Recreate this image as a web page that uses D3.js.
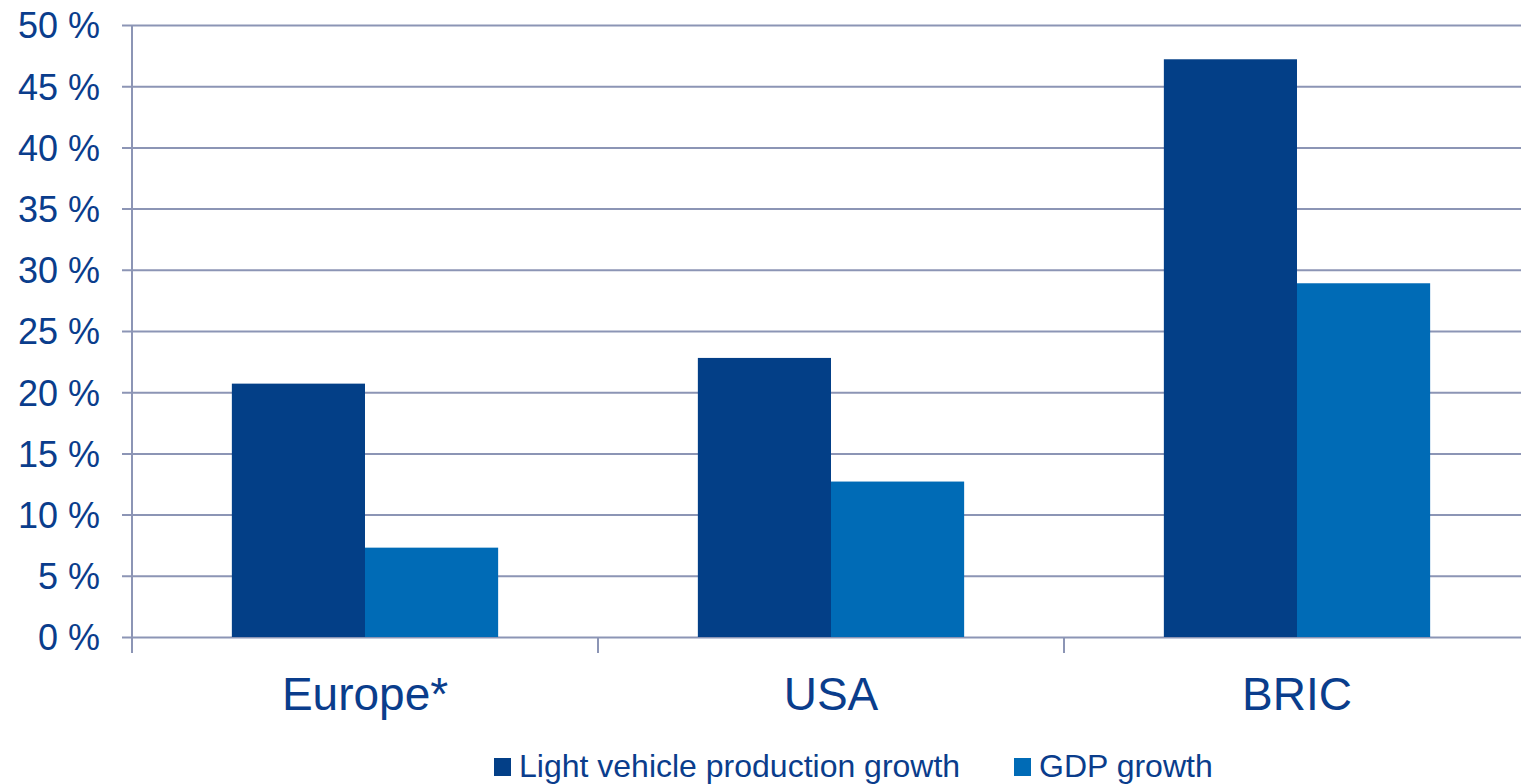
<!DOCTYPE html>
<html>
<head>
<meta charset="utf-8">
<script src="https://cdn.jsdelivr.net/npm/d3@7"></script>
<style>
  html, body { margin: 0; padding: 0; background: #fff; overflow: hidden; }
  text { font-family: "Liberation Sans", Arial, sans-serif; }
</style>
</head>
<body>
<svg id="chart" width="1521" height="784"></svg>
<script>
const categories = ["Europe*", "USA", "BRIC"];
const seriesNames = ["Light vehicle production growth", "GDP growth"];
const lightVehicleGrowth = [20.7, 22.8, 47.2];
const gdpGrowth = [7.3, 12.7, 28.9];
const yTicks = [0, 5, 10, 15, 20, 25, 30, 35, 40, 45, 50];
const colors = ["#033f87", "#006bb6"];
const textColor = "#0a3d8c";
const gridColor = "#8c95b5";

const svg = d3.select("#chart");
const margin = { left: 132, top: 25, bottom: 147 };
const bandW = 466;
const plotRight = margin.left + bandW * categories.length;
const y = d3.scaleLinear().domain([0, 50]).range([637, 25]);
const x0 = d3.scaleBand().domain(categories).range([margin.left, plotRight]).padding(0);
const bw = x0.bandwidth();
const x1 = d3.scaleBand().domain(seriesNames).range([bw * 0.75 / 3.5, bw * 2.75 / 3.5]).padding(0);

// gridlines
const yAxis = d3.axisLeft(y).tickValues(yTicks).tickSize(-(plotRight - margin.left)).tickSizeOuter(0)
  .tickFormat(d => d + " %");
const gy = svg.append("g").attr("transform", `translate(${margin.left},0)`).call(yAxis);
gy.select(".domain").remove();
gy.selectAll(".tick line").attr("stroke", gridColor).attr("stroke-width", 2).attr("x1", -10);
gy.selectAll(".tick text").attr("fill", textColor).attr("font-size", 36).attr("x", -32).attr("dy", "0.36em");

// bars
const data = categories.map((c, i) => ({ cat: c, vals: [lightVehicleGrowth[i], gdpGrowth[i]] }));
const groups = svg.append("g").selectAll("g").data(data).join("g")
  .attr("transform", d => `translate(${x0(d.cat)},0)`);
groups.selectAll("rect").data(d => d.vals.map((v, j) => ({ s: seriesNames[j], v, j })))
  .join("rect")
  .attr("x", d => x1(d.s))
  .attr("width", x1.bandwidth())
  .attr("y", d => y(d.v))
  .attr("height", d => y(0) - y(d.v))
  .attr("fill", d => colors[d.j]);

// y axis line
svg.append("line").attr("x1", margin.left).attr("x2", margin.left)
  .attr("y1", y(50)).attr("y2", y(0) + 16).attr("stroke", gridColor).attr("stroke-width", 2);

// x axis
const xAxis = d3.axisBottom(x0).tickSize(0).tickSizeOuter(0);
const gx = svg.append("g").attr("transform", `translate(0,${y(0)})`).call(xAxis);
gx.select(".domain").remove();
gx.selectAll(".tick text").attr("fill", textColor).attr("font-size", 46).attr("y", 73).attr("dy", 0);
// category separator ticks
svg.append("g").selectAll("line").data(categories.slice(1)).join("line")
  .attr("x1", d => x0(d)).attr("x2", d => x0(d))
  .attr("y1", y(0)).attr("y2", y(0) + 16)
  .attr("stroke", gridColor).attr("stroke-width", 2);

// legend
const legendItems = [{ name: seriesNames[0], x: 494 }, { name: seriesNames[1], x: 1014 }];
const lg = svg.append("g").selectAll("g").data(legendItems).join("g")
  .attr("transform", d => `translate(${d.x},758)`);
lg.append("rect").attr("width", 17).attr("height", 18).attr("fill", (d, i) => colors[i]);
lg.append("text").attr("x", 25).attr("y", 19)
  .attr("font-size", 32).attr("fill", textColor).text(d => d.name);
</script>
</body>
</html>
